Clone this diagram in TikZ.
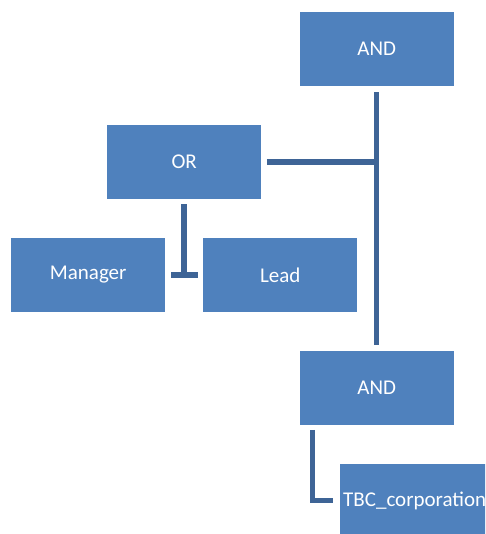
\documentclass[tikz,border=0pt]{standalone}
\usepackage{fontspec}
\setmainfont{Carlito}
\usepackage{tikz}

\definecolor{boxblue}{RGB}{79,129,189}
\definecolor{lineblue}{RGB}{62,100,150}

\begin{document}
\begin{tikzpicture}[x=1pt, y=-1pt,
  box/.style = {fill=boxblue, draw=none, text=white, anchor=north west,
    minimum width=154pt, minimum height=73.5pt, inner sep=0pt,
    font=\fontsize{21}{24}\selectfont},
  conn/.style = {draw=lineblue, line width=5.5pt}]
        \clip (0,0) rectangle (485,534);
        \node[box] (andtop) at (299.5,12) {AND};
        \node[box] (or) at (107,125) {OR};
        \node[box] (manager) at (11,238) {Manager};
        \node[box] (lead) at (203,238) {Lead};
        \node[box] (andbot) at (299.5,351) {AND};
        \node[box, text width=150pt, align=left, inner xsep=3.5pt] (tbc) at (339.5,463.5) {TBC\_corporation};
        % AND - AND, OR
        \draw[conn] ([yshift=-6.5pt]andtop.south) -- ([yshift=6pt]andbot.north);
        \draw[conn] ([xshift=5.5pt]or.east) -- (andtop.south |- or.east);
        % OR - Manager, Lead
        \draw[conn] ([yshift=-5.5pt]or.south) -- (or.south |- manager.east);
        \draw[conn] ([xshift=6pt]manager.east) -- ([xshift=-5pt]lead.west);
        % AND - TBC
        \draw[conn] ([xshift=13pt, yshift=-5pt]andbot.south west) |- ([xshift=-6.5pt]tbc.west);
    \end{tikzpicture}
\end{document}
